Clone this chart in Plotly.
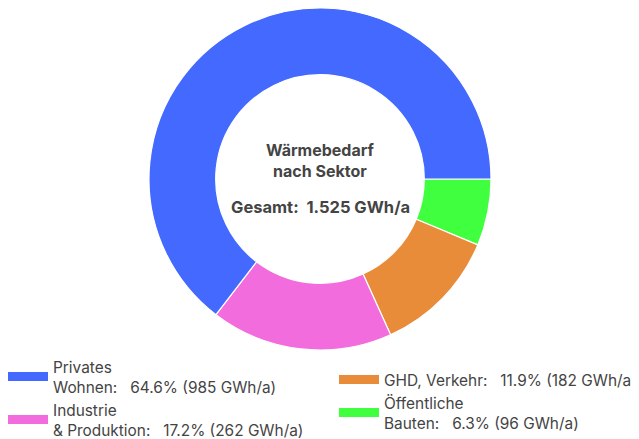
import plotly.graph_objects as go

# Data
sectors = ["Privates Wohnen", "Industrie & Produktion", "GHD, Verkehr", "Öffentliche Bauten"]
legend_names = ["Privates<br>Wohnen:", "Industrie<br>& Produktion:", "GHD, Verkehr:", "Öffentliche<br>Bauten:"]
shares = [64.6, 17.2, 11.9, 6.3]
gwh = [985, 262, 182, 96]
colors = ["#4369FF", "#F36CDD", "#E88C3A", "#3FFF3F"]
total_label = "1.525 GWh/a"
center_title = "Wärmebedarf<br>nach Sektor"

legend_ids = ["legend", "legend", "legend2", "legend3"]

NB = "\u00a0"
FONT = "Inter"
TXT = "#444444"
W, H = 631, 431  # page body adds an 8px offset

def px(x):
    return x / W

def py(y):
    return (H - y) / H

fig = go.Figure()

# slices drawn clockwise from 3 o'clock in reverse order
fig.add_trace(go.Pie(
    labels=sectors[::-1],
    values=gwh[::-1],
    sort=False,
    direction="clockwise",
    rotation=90,
    hole=0.61,
    marker=dict(colors=colors[::-1], line=dict(color="white", width=1.2)),
    textinfo="none",
    hoverinfo="label+percent",
    showlegend=False,
    domain=dict(x=[px(141), px(483)], y=[py(342), 1]),
))

for i in range(len(sectors)):
    txt = f"{legend_names[i]}{NB*3}{shares[i]:.1f}% ({gwh[i]} GWh/a)"
    fig.add_trace(go.Scatter(
        x=[None], y=[None], mode="lines",
        line=dict(color=colors[i], width=9),
        name=txt, showlegend=True, hoverinfo="skip",
        legend=legend_ids[i],
    ))

fig.add_annotation(
    text=f"<b>{center_title}</b>", x=px(312), y=py(152.5),
    xref="paper", yref="paper", showarrow=False, yanchor="middle",
    font=dict(family=FONT, size=16, color=TXT),
)
fig.add_annotation(
    text=f"<b>Gesamt:{NB*2}{total_label}</b>", x=px(312), y=py(199),
    xref="paper", yref="paper", showarrow=False, yanchor="middle",
    font=dict(family=FONT, size=16.5, color=TXT),
)

leg_common = dict(
    orientation="v", xanchor="left", yanchor="middle",
    itemwidth=40, valign="middle", bgcolor="rgba(0,0,0,0)",
    font=dict(family=FONT, size=15.4, color=TXT),
)

fig.update_layout(
    width=W, height=H,
    margin=dict(l=0, r=0, t=0, b=0, autoexpand=False),
    paper_bgcolor="white", plot_bgcolor="white",
    xaxis=dict(visible=False), yaxis=dict(visible=False),
    font=dict(family=FONT, size=15, color=TXT),
    legend=dict(x=px(-5), y=py(390.5), **leg_common),
    legend2=dict(x=px(326), y=py(372), **leg_common),
    legend3=dict(x=px(326), y=py(405), **leg_common),
)

fig.write_html("out.html")
